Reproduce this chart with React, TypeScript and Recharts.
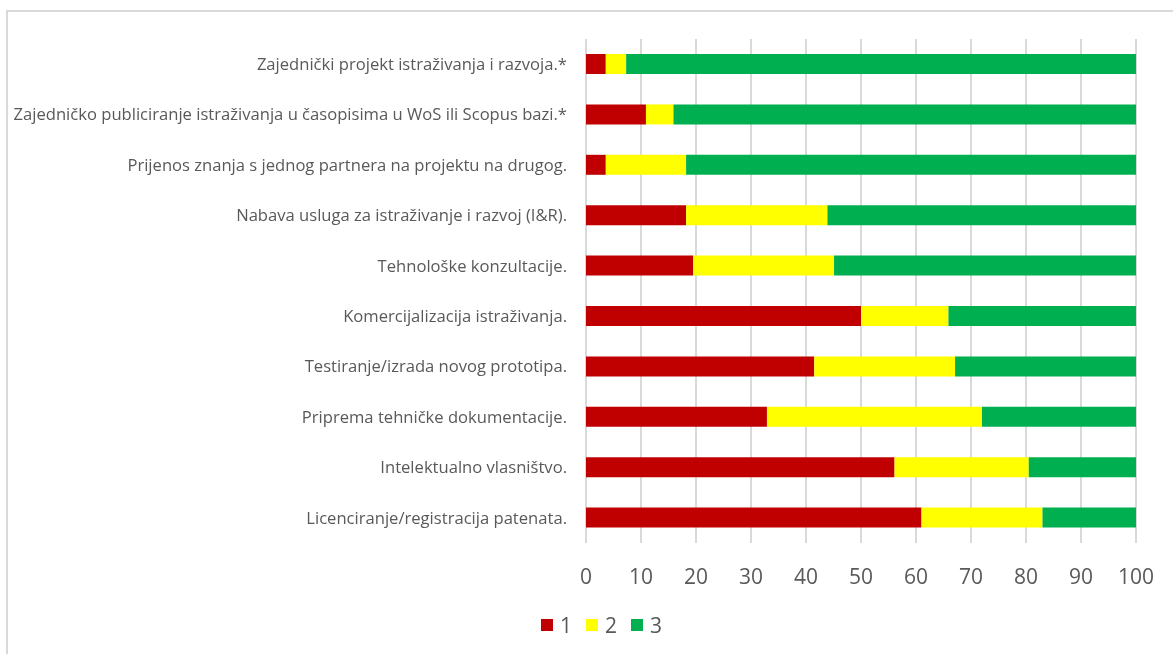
import React from 'react';
import { BarChart, Bar, XAxis, YAxis, CartesianGrid } from 'recharts';

const categories = [
  'Zajednički projekt istraživanja i razvoja.*',
  'Zajedničko publiciranje istraživanja u časopisima u WoS ili Scopus bazi.*',
  'Prijenos znanja s jednog partnera na projektu na drugog.',
  'Nabava usluga za istraživanje i razvoj (I&R).',
  'Tehnološke konzultacije.',
  'Komercijalizacija istraživanja.',
  'Testiranje/izrada novog prototipa.',
  'Priprema tehničke dokumentacije.',
  'Intelektualno vlasništvo.',
  'Licenciranje/registracija patenata.',
];

const series1 = [3.6, 10.9, 3.6, 18.2, 19.5, 50.0, 41.5, 32.9, 56.1, 61.0];
const series2 = [3.7, 5.0, 14.6, 25.7, 25.6, 15.9, 25.6, 39.1, 24.4, 22.0];
const series3 = [92.7, 84.1, 81.8, 56.1, 54.9, 34.1, 32.9, 28.0, 19.5, 17.0];

const xTicks = [0, 10, 20, 30, 40, 50, 60, 70, 80, 90, 100];

const seriesMeta = [
  { key: 's1', name: '1', color: '#C00000' },
  { key: 's2', name: '2', color: '#FFFF00' },
  { key: 's3', name: '3', color: '#00B050' },
];

const data = categories.map((c, i) => ({
  name: c,
  s1: series1[i],
  s2: series2[i],
  s3: series3[i],
}));

const FONT = '"Open Sans", Lato, sans-serif';
const textColor = '#595959';

export default function App() {
  return (
    <div style={{ position: 'relative', width: 1157, height: 636, background: '#fff' }}>
      {/* chart frame, its right and bottom edges run off the page */}
      <div
        style={{
          position: 'fixed',
          left: 6,
          top: 10,
          width: 1200,
          height: 700,
          border: '2px solid #d9d9d9',
          pointerEvents: 'none',
        }}
      />
      <div style={{ position: 'absolute', left: 0, top: 4 }}>
        <BarChart
          width={1157}
          height={620}
          data={data}
          layout="vertical"
          barSize={20}
          margin={{ top: 27, right: 29, left: 0, bottom: 0 }}
        >
          <CartesianGrid horizontal={false} stroke="#d9d9d9" strokeWidth={2} />
          <XAxis
            type="number"
            domain={[0, 100]}
            ticks={xTicks}
            axisLine={false}
            tickLine={false}
            tickSize={0}
            tickMargin={26}
            height={89}
            tick={{ fill: textColor, fontSize: 21, fontFamily: FONT }}
          />
          <YAxis
            type="category"
            dataKey="name"
            width={578}
            axisLine={false}
            tickLine={false}
            tickSize={0}
            tickMargin={19}
            interval={0}
            tick={{ fill: textColor, fontSize: 16.6, fontFamily: FONT }}
          />
          {seriesMeta.map((s) => (
            <Bar key={s.key} dataKey={s.key} name={s.name} stackId="a" fill={s.color} isAnimationActive={false} />
          ))}
        </BarChart>
      </div>
      <div
        style={{
          position: 'absolute',
          left: 533,
          top: 603,
          display: 'flex',
          alignItems: 'center',
          fontFamily: FONT,
          fontSize: 21,
          color: textColor,
          lineHeight: '28px',
        }}
      >
        {seriesMeta.map((s) => (
          <div key={s.key} style={{ display: 'flex', alignItems: 'center', marginRight: 14 }}>
            <span style={{ display: 'inline-block', width: 12, height: 12, background: s.color, marginRight: 7 }} />
            <span>{s.name}</span>
          </div>
        ))}
      </div>
    </div>
  );
}
